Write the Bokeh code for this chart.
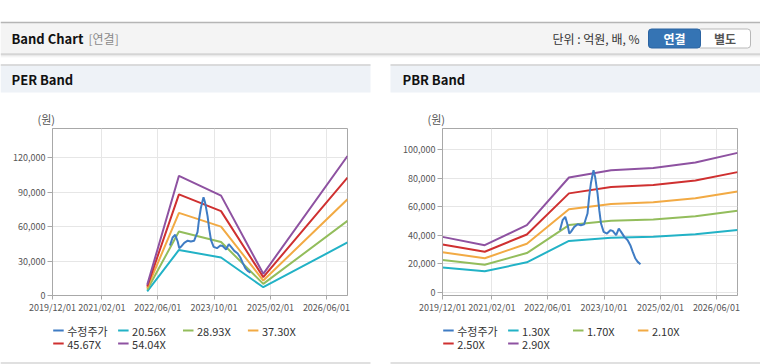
import pandas as pd
from bokeh.plotting import figure
from bokeh.models import (Range1d, FixedTicker, NumeralTickFormatter, DatetimeTickFormatter,
                          BoxAnnotation, Label)
from bokeh.layouts import column, row
from bokeh.embed import file_html
from bokeh.resources import INLINE
from bokeh.core.properties import value

FONT = "Noto Sans CJK KR"

# ---------------- data ----------------
x_tick_dates = ["2019-12-01", "2021-02-01", "2022-06-01", "2023-10-01", "2025-02-01", "2026-06-01"]
x_start = "2019-12-01"
x_end = "2026-12-01"

price_name = "수정주가"
price_dates = ["2022-09-14", "2022-10-07", "2022-10-30", "2022-11-20", "2022-12-04", "2022-12-18",
               "2023-01-16", "2023-02-15", "2023-03-14", "2023-04-12", "2023-04-27", "2023-05-11",
               "2023-05-25", "2023-06-09", "2023-06-23", "2023-07-02", "2023-07-16", "2023-08-06",
               "2023-08-21", "2023-09-05", "2023-09-28", "2023-10-27", "2023-11-25", "2023-12-15",
               "2024-01-14", "2024-02-06", "2024-02-26", "2024-03-25", "2024-04-23", "2024-05-16",
               "2024-06-06", "2024-06-29", "2024-07-19", "2024-08-12"]
price_values = [43570, 50560, 52890, 47060, 41240, 42400,
                45900, 47760, 47060, 47760, 51730, 55220,
                66870, 76220, 82030, 85520, 80860, 69200,
                57550, 48250, 42400, 41240, 43570, 43100,
                40070, 44730, 42400, 38900, 36570, 33080,
                28410, 23750, 21420, 19790]

per_dates = ["2022-03-01", "2022-12-01", "2023-12-01", "2024-12-01", "2026-12-01"]
per_names = ["20.56X", "28.93X", "37.30X", "45.67X", "54.04X"]
per_20_56 = [3540, 39680, 33100, 7200, 46220]
per_28_93 = [4980, 55830, 46580, 10130, 65040]
per_37_30 = [6420, 71990, 60050, 13060, 83850]
per_45_67 = [7860, 88140, 73530, 15980, 102670]
per_54_04 = [9290, 104300, 87000, 18910, 121480]
per_y_ticks = [0, 30000, 60000, 90000, 120000]

pbr_dates = ["2019-12-01", "2020-12-01", "2021-12-01", "2022-12-01", "2023-12-01",
             "2024-12-01", "2025-12-01", "2026-12-01"]
pbr_names = ["1.30X", "1.70X", "2.10X", "2.50X", "2.90X"]
pbr_1_30 = [17430, 14830, 21100, 36050, 38340, 39070, 40760, 43770]
pbr_1_70 = [22800, 19400, 27590, 47140, 50130, 51090, 53300, 57240]
pbr_2_10 = [28160, 23960, 34080, 58230, 61930, 63110, 65840, 70710]
pbr_2_50 = [33530, 28530, 40580, 69330, 73730, 75130, 78380, 84180]
pbr_2_90 = [38890, 33090, 47070, 80420, 85520, 87150, 90920, 97640]
pbr_y_ticks = [0, 20000, 40000, 60000, 80000, 100000]

price_color = "#3f7cc4"
band_colors = ["#22b2c6", "#93bd5c", "#f2aa44", "#cf3030", "#8e52a1"]


def ms(d):
    return pd.Timestamp(d).value // 10**6


def deco_figure(w, hgt, x0, y0):
    f = figure(width=w, height=hgt, x_range=Range1d(x0, x0 + w), y_range=Range1d(y0 + hgt, y0),
               output_backend="svg", toolbar_location=None, min_border=0,
               x_axis_location=None, y_axis_location=None)
    f.grid.visible = False
    f.outline_line_color = None
    f.background_fill_color = "white"
    f.border_fill_color = "white"
    return f


def band_chart(width, b_left, b_right, dates, series, y_ticks, y_lo, y_hi):
    p = figure(width=width, height=193, x_axis_type="datetime",
               x_range=Range1d(pd.Timestamp(x_start), pd.Timestamp(x_end)),
               y_range=Range1d(y_lo, y_hi),
               output_backend="svg", toolbar_location=None,
               min_border_left=b_left, min_border_right=b_right,
               min_border_top=1, min_border_bottom=25)
    p.background_fill_color = "white"
    p.border_fill_color = "white"
    p.outline_line_color = "#a8a8a8"

    d = pd.to_datetime(dates)
    for vals, col in zip(series, band_colors):
        p.line(d, vals, line_color=col, line_width=2)
    p.line(pd.to_datetime(price_dates), price_values, line_color=price_color, line_width=2)

    p.xaxis.ticker = FixedTicker(ticks=[ms(t) for t in x_tick_dates])
    fmt = "%Y/%m/%d"
    p.xaxis.formatter = DatetimeTickFormatter(microseconds=fmt, milliseconds=fmt, seconds=fmt,
                                              minsec=fmt, minutes=fmt, hourmin=fmt, hours=fmt,
                                              days=fmt, months=fmt, years=fmt)
    p.yaxis.ticker = FixedTicker(ticks=y_ticks)
    p.yaxis.formatter = NumeralTickFormatter(format="0,0")
    for ax in (p.xaxis[0], p.yaxis[0]):
        ax.axis_line_color = "#a8a8a8"
        ax.major_tick_line_color = "#a8a8a8"
        ax.minor_tick_line_color = None
        ax.major_tick_in = 0
        ax.major_label_text_font = FONT
        ax.major_label_text_font_size = "9px"
        ax.major_label_text_color = "#555555"
    p.xaxis.major_tick_out = 4
    p.yaxis.major_tick_out = 5
    p.xaxis.major_label_standoff = 1
    p.yaxis.major_label_standoff = 2
    p.xgrid.grid_line_color = "#e6e6e6"
    p.ygrid.grid_line_color = "#e6e6e6"
    return p


# ---------------- header (page y 0..127) ----------------
h = deco_figure(760, 127, 0, 0)
h.quad(left=[0], right=[760], top=[22], bottom=[53], fill_color="#f4f4f4", line_color=None)
h.segment(x0=[0], y0=[22], x1=[760], y1=[22], line_color="#b5b5b5", line_width=1.5)
for i, a in enumerate([0.22, 0.12, 0.06, 0.03]):
    h.segment(x0=[0], y0=[53.5 + i], x1=[760], y1=[53.5 + i], line_color="black", line_alpha=a, line_width=1)

h.quad(left=[0, 390], right=[370, 760], top=[64, 64], bottom=[92, 92], fill_color="#eef2f7", line_color=None)
h.segment(x0=[0, 390], y0=[64.5, 64.5], x1=[370, 760], y1=[64.5, 64.5], line_color="#d2d2d2", line_width=1.5)

h.text(x=[11], y=[38], text=["Band Chart"], text_font=value(FONT), text_font_size="13px",
       text_font_style="bold", text_color="#111111", text_baseline="middle")
h.text(x=[88], y=[38], text=["[연결]"], text_font=value(FONT), text_font_size="12px",
       text_color="#8a8a8a", text_baseline="middle")
h.text(x=[552], y=[38], text=["단위 : 억원, 배, %"], text_font=value(FONT), text_font_size="12px",
       text_color="#333333", text_baseline="middle")

h.add_layout(BoxAnnotation(left=697, right=750, top=28.5, bottom=47.5, fill_color="white", fill_alpha=1,
                           line_color="#b8b8b8", line_alpha=1, line_width=1, border_radius=3))
h.add_layout(BoxAnnotation(left=648, right=700, top=28.5, bottom=47.5, fill_color="#3574b4", fill_alpha=1,
                           line_color="#2c64a2", line_alpha=1, line_width=1, border_radius=3))
h.add_layout(Label(x=674, y=38, text="연결", text_font=FONT, text_font_size="12px",
                   text_font_style="bold", text_color="white", text_baseline="middle", text_align="center"))
h.add_layout(Label(x=724.5, y=38, text="별도", text_font=FONT, text_font_size="12px",
                   text_font_style="bold", text_color="#555555", text_baseline="middle", text_align="center"))

h.text(x=[11, 402], y=[79, 79], text=["PER Band", "PBR Band"], text_font=value(FONT),
       text_font_size="13px", text_font_style="bold", text_color="#111111", text_baseline="middle")
h.text(x=[37, 427], y=[118, 118], text=["(원)", "(원)"], text_font=value(FONT),
       text_font_size="11px", text_color="#555555", text_baseline="middle")

# ---------------- charts (page y 127..320) ----------------
per = band_chart(380, 52, 33, per_dates, [per_20_56, per_28_93, per_37_30, per_45_67, per_54_04],
                 per_y_ticks, 0, 145500)
pbr = band_chart(380, 62, 23, pbr_dates, [pbr_1_30, pbr_1_70, pbr_2_10, pbr_2_50, pbr_2_90],
                 pbr_y_ticks, -2100, 114700)

# ---------------- legends (page y 320..364) ----------------
lg = deco_figure(760, 44, 0, 320)
step = 64.9
for x_left, names in ((52.7, per_names), (442.7, pbr_names)):
    labels = [price_name] + names
    colors = [price_color] + band_colors
    for k, (lab, col) in enumerate(zip(labels, colors)):
        gx = x_left + (k % 4) * step
        gy = 330 + (k // 4) * 13
        lg.segment(x0=[gx], y0=[gy], x1=[gx + 10.5], y1=[gy], line_color=col, line_width=2)
        lg.text(x=[gx + 14], y=[gy], text=[lab], text_font=value(FONT), text_font_size="11px",
                text_color="#333333", text_baseline="middle")
lg.segment(x0=[0, 390], y0=[362.5, 362.5], x1=[370, 760], y1=[362.5, 362.5],
           line_color="#d6d6d6", line_width=1.5)

layout = column(h, row(per, pbr, spacing=0), lg, spacing=0)

open("out.html", "w").write(file_html(layout, INLINE))
